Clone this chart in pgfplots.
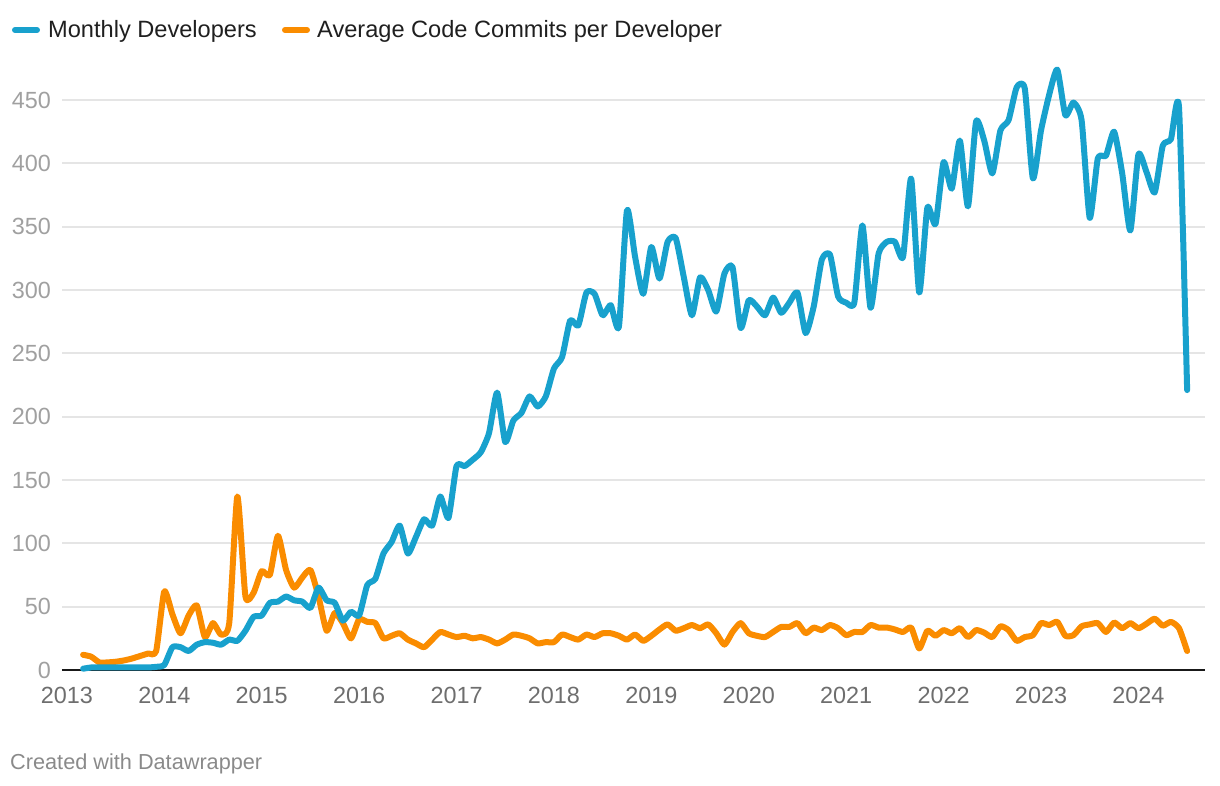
\documentclass[border=0pt]{standalone}
\usepackage{fontspec}
\setmainfont{Liberation Sans}
\usepackage{pgfplots}
\pgfplotsset{compat=1.18}
\usepackage{pgfplotstable}

\definecolor{dwblue}{HTML}{18A1CD}
\definecolor{dworange}{HTML}{FA8C00}
\definecolor{gridgray}{HTML}{E5E5E5}
\definecolor{ylab}{HTML}{A0A0A0}
\definecolor{xlab}{HTML}{6E6E6E}
\definecolor{foot}{HTML}{8A8A8A}

% month index: 0 = Jan 2013
\pgfplotstableread{
m v
2 1
3 2
4 2
5 2
6 2
7 2
8 2
9 2
10 2
11 2.5
12 4
13 18
14 18
15 15
16 20
17 22
18 21.5
19 20
20 24
21 23
22 31
23 42
24 43
25 53
26 54
27 58
28 55
29 54
30 49
31 65
32 55
33 53
34 39
35 46
36 43
37 67
38 72
39 92
40 101
41 114
42 92
43 105
44 119
45 114
46 137
47 120
48 161
49 161
50 166
51 172
52 187
53 219
54 180
55 197
56 203
57 216
58 208
59 216
60 238
61 247
62 276
63 272
64 298
65 297
66 280
67 288
68 271
69 363
70 326
71 297
72 334
73 309
74 338
75 341
76 310
77 280
78 310
79 300
80 283
81 313
82 318
83 270
84 292
85 287
86 280
87 294
88 282
89 290
90 298
91 266
92 287
93 324
94 328
95 295
96 290
97 290
98 351
99 286
100 329
101 338
102 338
103 326
104 388
105 298
106 365
107 352
108 401
109 380
110 418
111 366
112 433
113 418
114 392
115 426
116 434
117 460
118 459
119 388
120 426
121 454
122 474
123 438
124 448
125 434
126 357
127 404
128 406
129 425
130 392
131 347
132 407
133 393
134 377
135 414
136 419
137 444
138 221
}\devs

\pgfplotstableread{
m v
2 12
3 10.5
4 6
5 6
6 6.5
7 7.5
8 9
9 11
10 13
11 15
12 62
13 44
14 29
15 43
16 51
17 26
18 37
19 28
20 37
21 137
22 58
23 61
24 78
25 75
26 106
27 79
28 65
29 73
30 79
31 58
32 31
33 45
34 37
35 25
36 40
37 38
38 37
39 25
40 27
41 29
42 24
43 21
44 18
45 24
46 30
47 28
48 26
49 27
50 25
51 26
52 24
53 21
54 24
55 28
56 27
57 25
58 21
59 22
60 22
61 28
62 26
63 24
64 28
65 26
66 29
67 29
68 27
69 24
70 28
71 23
72 27
73 32
74 36
75 31
76 33
77 35.5
78 33
79 36
80 29
81 20
82 30
83 37
84 29
85 27
86 26
87 30
88 34
89 34
90 37
91 29
92 33.5
93 31.5
94 35.5
95 33
96 27.5
97 30
98 30
99 35.5
100 33.5
101 33.5
102 32
103 30
104 33.5
105 17
106 31
107 27
108 31.5
109 29
110 33
111 26
112 31.5
113 29.5
114 26
115 34.5
116 31.5
117 23
118 26
119 27.5
120 37
121 35.5
122 38
123 27
124 27.5
125 34.5
126 36
127 37
128 30
129 37.5
130 33
131 37
132 33
133 36.5
134 40.5
135 35
136 38
137 33
138 15
}\commits

\begin{document}
\begin{tikzpicture}
\path[use as bounding box] (0pt,0pt) rectangle (1220pt,786pt);
\begin{axis}[
    at={(62pt,116pt)}, anchor=south west,
    scale only axis, width=1143pt, height=608pt,
    xmin=-0.6, xmax=140.2,
    ymin=0, ymax=480,
    clip=false,
    axis x line=bottom, axis y line=left,
    x axis line style={-, line width=2.7pt, color=black!90},
    y axis line style={draw=none},
    major tick length=0pt,
    xtick={0,12,...,132},
    xticklabels={2013,2014,2015,2016,2017,2018,2019,2020,2021,2022,2023,2024},
    ytick={0,50,...,450},
    yticklabels={0,50,100,150,200,250,300,350,400,450},
    xticklabel style={font=\fontsize{23.4}{28}\selectfont, text=xlab,
        anchor=base, inner sep=0pt, yshift=-34pt},
    yticklabel style={font=\fontsize{23.4}{28}\selectfont, text=ylab,
        anchor=east, inner sep=0pt, xshift=-11pt},
    ymajorgrids, grid style={gridgray, line width=2pt},
]
\addplot[dworange, line width=6pt, smooth, tension=0.35, line cap=round, line join=round]
    table[x=m, y=v] {\commits};
\addplot[dwblue, line width=6pt, smooth, tension=0.35, line cap=round, line join=round]
    table[x=m, y=v] {\devs};
\end{axis}

% legend
\draw[dwblue, line width=6pt, line cap=round] (15pt,756pt) -- (37pt,756pt);
\node[anchor=base west, inner sep=0pt, font=\fontsize{23.6}{28}\selectfont, text=black!88]
    at (48pt,748pt) {Monthly Developers};
\draw[dworange, line width=6pt, line cap=round] (285pt,756pt) -- (307pt,756pt);
\node[anchor=base west, inner sep=0pt, font=\fontsize{23.6}{28}\selectfont, text=black!88]
    at (317pt,748pt) {Average Code Commits per Developer};

% footer
\node[anchor=base west, inner sep=0pt, font=\fontsize{21.7}{26}\selectfont, text=foot]
    at (10pt,16pt) {Created with Datawrapper};
\end{tikzpicture}
\end{document}
